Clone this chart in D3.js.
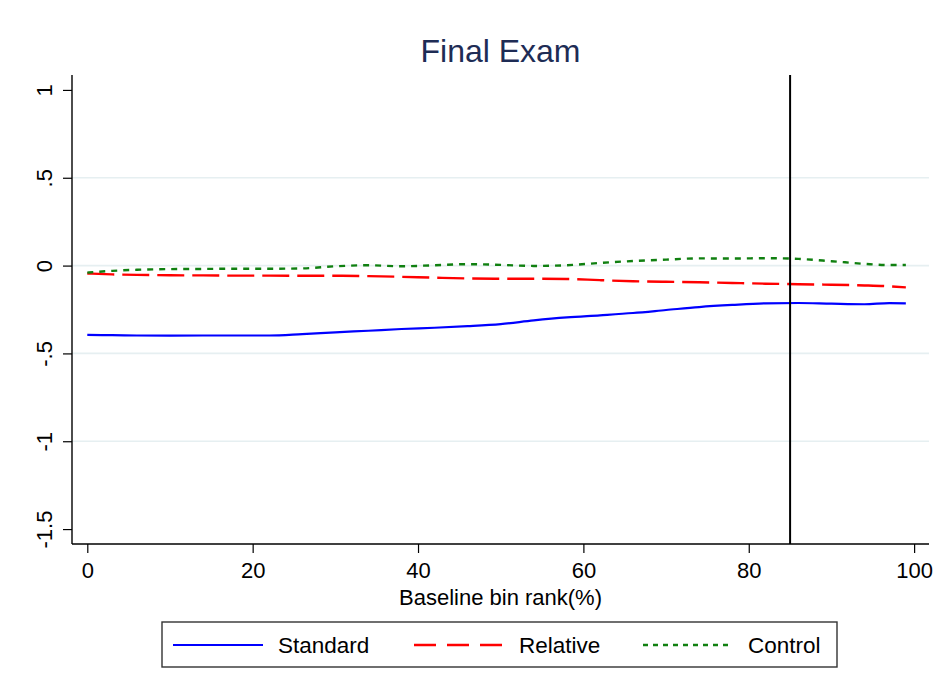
<!DOCTYPE html>
<html>
<head>
<meta charset="utf-8">
<script src="https://cdn.jsdelivr.net/npm/d3@7"></script>
<style>
  html, body { margin: 0; padding: 0; background: #fff; }
  svg { display: block; font-family: "Liberation Sans", Arial, Helvetica, sans-serif; }
</style>
</head>
<body>
<svg id="chart" width="951" height="696"></svg>
<script>
// Baseline bin rank (%) at which each series is evaluated
const rank = [0, 3, 6, 10, 14, 18, 22, 26, 30, 34, 38, 42, 46, 50, 54, 58, 62, 66, 70, 74, 78, 82, 86, 90, 94, 97, 99];

// Estimated effects on the final exam
const standard = [-0.395, -0.396, -0.398, -0.399, -0.398, -0.398, -0.398, -0.390, -0.380, -0.371, -0.361, -0.354, -0.345, -0.333, -0.312, -0.295, -0.283, -0.270, -0.253, -0.236, -0.224, -0.215, -0.213, -0.217, -0.220, -0.214, -0.215];
const relative = [-0.045, -0.050, -0.053, -0.055, -0.056, -0.057, -0.057, -0.058, -0.058, -0.060, -0.064, -0.069, -0.073, -0.075, -0.075, -0.076, -0.083, -0.089, -0.092, -0.095, -0.099, -0.103, -0.106, -0.109, -0.113, -0.118, -0.124];
const control  = [-0.040, -0.030, -0.024, -0.020, -0.019, -0.018, -0.018, -0.016, -0.004, 0.002, -0.004, 0.002, 0.008, 0.004, -0.002, 0.002, 0.015, 0.026, 0.034, 0.041, 0.040, 0.042, 0.038, 0.025, 0.010, 0.003, 0.003];

const seriesNames = ["Standard", "Relative", "Control"];
const xTicks = [0, 20, 40, 60, 80, 100];
const yTicks = [1, 0.5, 0, -0.5, -1, -1.5];
const yTickLabels = ["1", ".5", "0", "-.5", "-1", "-1.5"];
const gridValues = [0.5, 0, -0.5, -1];
const cutoff = [85];

const svg = d3.select("#chart");

const plot = { left: 72, right: 929, top: 75, bottom: 544 };

const x = d3.scaleLinear().domain([-1.85, 101.8]).range([plot.left, plot.right]);
const y = d3.scaleLinear().domain([-1.585, 1.085]).range([plot.bottom, plot.top]);

// Title
svg.append("text")
  .attr("x", (plot.left + plot.right) / 2)
  .attr("y", 62)
  .attr("text-anchor", "middle")
  .attr("font-size", 32)
  .attr("fill", "#1e2c55")
  .text("Final Exam");

// Horizontal grid
svg.append("g").selectAll("line").data(gridValues).join("line")
  .attr("x1", plot.left).attr("x2", plot.right)
  .attr("y1", d => y(d)).attr("y2", d => y(d))
  .attr("stroke", "#e6eff1").attr("stroke-width", 1.6);

// Y axis
const yAxis = d3.axisLeft(y)
  .tickValues(yTicks)
  .tickSize(9)
  .tickFormat((d, i) => yTickLabels[i]);
const gy = svg.append("g")
  .attr("transform", `translate(${plot.left},0)`)
  .call(yAxis);
gy.select(".domain").attr("d", `M0,${plot.top}V${plot.bottom}`).attr("stroke", "#000").attr("stroke-width", 1.4);
gy.selectAll(".tick line").attr("stroke", "#000").attr("stroke-width", 1.2);
gy.selectAll(".tick text")
  .attr("font-size", 22)
  .attr("fill", "#000")
  .attr("font-family", "'Liberation Sans', Arial, Helvetica, sans-serif")
  .attr("text-anchor", "middle")
  .attr("dy", null)
  .attr("x", null)
  .attr("transform", "translate(-20,0) rotate(-90)");

// X axis
const xAxis = d3.axisBottom(x).tickValues(xTicks).tickSize(9).tickFormat(d3.format("d"));
const gx = svg.append("g")
  .attr("transform", `translate(0,${plot.bottom})`)
  .call(xAxis);
gx.select(".domain").attr("d", `M${plot.left},0H${plot.right}`).attr("stroke", "#000").attr("stroke-width", 1.4);
gx.selectAll(".tick line").attr("stroke", "#000").attr("stroke-width", 1.2);
gx.selectAll(".tick text")
  .attr("font-size", 22)
  .attr("fill", "#000")
  .attr("font-family", "'Liberation Sans', Arial, Helvetica, sans-serif")
  .attr("dy", null)
  .attr("y", 34);

svg.append("text")
  .attr("x", (plot.left + plot.right) / 2)
  .attr("y", 605)
  .attr("text-anchor", "middle")
  .attr("font-size", 22)
  .text("Baseline bin rank(%)");

// Series lines
const styles = [
  { values: standard, color: "#0000ff", dash: null, legendDash: null, width: 2.2 },
  { values: relative, color: "#ff0000", dash: "27,8", legendDash: "22,11", width: 2.4 },
  { values: control,  color: "#108010", dash: "6,6", legendDash: "5,5", width: 2.4 }
];

const line = d3.line()
  .x(d => x(d[0]))
  .y(d => y(d[1]))
  .curve(d3.curveMonotoneX);

styles.forEach(s => {
  svg.append("path")
    .datum(rank.map((r, i) => [r, s.values[i]]))
    .attr("d", line)
    .attr("fill", "none")
    .attr("stroke", s.color)
    .attr("stroke-width", s.width)
    .attr("stroke-dasharray", s.dash);
});

// Cutoff marker
svg.append("g").selectAll("line").data(cutoff).join("line")
  .attr("x1", d => x(d)).attr("x2", d => x(d))
  .attr("y1", plot.top).attr("y2", plot.bottom)
  .attr("stroke", "#000").attr("stroke-width", 2);

// Legend
const legend = svg.append("g");
legend.append("rect")
  .attr("x", 162).attr("y", 622)
  .attr("width", 675).attr("height", 45)
  .attr("fill", "#fff").attr("stroke", "#333").attr("stroke-width", 1.4);

const legendItems = [
  { x1: 173, x2: 263, tx: 278 },
  { x1: 414, x2: 504, tx: 519 },
  { x1: 643, x2: 731, tx: 748 }
];
legendItems.forEach((p, i) => {
  legend.append("line")
    .attr("x1", p.x1).attr("x2", p.x2)
    .attr("y1", 645).attr("y2", 645)
    .attr("stroke", styles[i].color)
    .attr("stroke-width", styles[i].width)
    .attr("stroke-dasharray", styles[i].legendDash);
  legend.append("text")
    .attr("x", p.tx).attr("y", 653)
    .attr("font-size", 22.5)
    .text(seriesNames[i]);
});
</script>
</body>
</html>
